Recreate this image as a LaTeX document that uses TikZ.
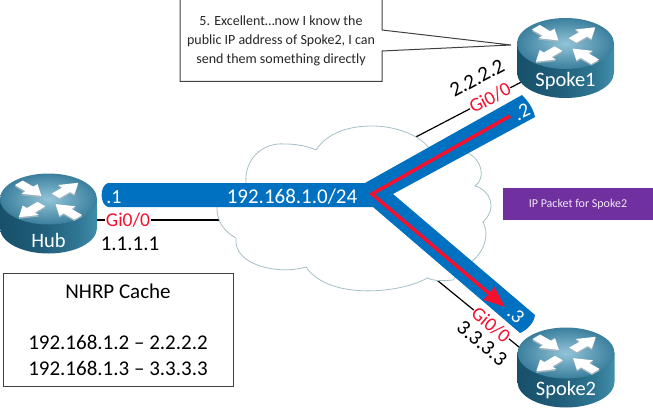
\documentclass[tikz,border=0pt]{standalone}
\usepackage{fontspec}
\setmainfont{Carlito}
\usetikzlibrary{arrows.meta,shadows}
\definecolor{lanblue}{HTML}{0070C0}
\definecolor{pathred}{HTML}{F5102D}
\definecolor{cloudline}{HTML}{A6BFC6}
\definecolor{pktpurple}{HTML}{7030A0}
\definecolor{rsA}{HTML}{17506A}
\definecolor{rsB}{HTML}{1F5C78}
\definecolor{rsC}{HTML}{2F7692}
\definecolor{rsD}{HTML}{4A9AB8}
\definecolor{rsE}{HTML}{5FAFC8}
\definecolor{rsF}{HTML}{2C6C86}
\definecolor{HubTopIn}{HTML}{92C4D8}
\definecolor{HubTopOut}{HTML}{3B7F9D}
\definecolor{HubArrowShadow}{HTML}{9FB4BE}
\pgfdeclarehorizontalshading{routerside}{100bp}{
  color(0bp)=(rsA); color(25bp)=(rsA); color(45bp)=(rsB); color(65bp)=(rsC);
  color(80bp)=(rsD); color(90bp)=(rsE); color(100bp)=(rsF)}
\tikzset{
  wire/.style={draw=black,line width=1.2pt},
  redtxt/.style={text=pathred,fill=white,inner sep=0.6pt,font=\fontsize{19.5}{19.5}\selectfont},
  blacktxt/.style={text=black,inner sep=0pt,font=\fontsize{21}{21}\selectfont},
  whitetxt/.style={text=white,inner sep=0pt,font=\fontsize{20}{20}\selectfont},
  routertxt/.style={text=white,inner sep=0pt,anchor=base,font=\fontsize{20.5}{20.5}\selectfont},
  boxline/.style={draw=black!75,line width=1pt,fill=white},
}
\newcommand{\arrowpoly}{(10,-5.5) -- (25,-5.5) -- (25,-11.5) -- (42,0) -- (25,11.5) -- (25,5.5) -- (10,5.5) -- cycle}
\newcommand{\rarrowpoly}{(42,-5.5) -- (27,-5.5) -- (27,-11.5) -- (10,0) -- (27,11.5) -- (27,5.5) -- (42,5.5) -- cycle}
\newcommand{\routerfig}[5]{%
  \begin{scope}[shift={(#2,#3)}]
    \shade[shading=routerside] (-48.5,0) -- (-48.5,29) arc[start angle=180,end angle=0,x radius=48.5,y radius=25.5] -- (48.5,0) -- cycle;
    \shade[inner color=HubTopIn,outer color=HubTopOut] (0,0) ellipse [x radius=48.5,y radius=25.5];
    \foreach \off/\col in {1.6/HubArrowShadow,0/white}{
      \begin{scope}[yshift=-\off pt,yshift=-1pt,yscale=.58]
        \fill[\col,rotate=45] \arrowpoly;
        \fill[\col,rotate=-45] \rarrowpoly;
        \fill[\col,rotate=135] \rarrowpoly;
        \fill[\col,rotate=-135] \arrowpoly;
      \end{scope}}
    \node[routertxt] (#1label) at (0,#5) {#4};
  \end{scope}}
\begin{document}
\begin{tikzpicture}[x=1pt,y=-1pt]
\useasboundingbox (0,0) rectangle (653,409);
% ports
\coordinate (hubport) at (96,220);
\coordinate (spokeoneport) at (565.5,59);
\coordinate (spoketwoport) at (530,356);
\coordinate (cloudw) at (220,220);
\coordinate (cloudne) at (412,139);
\coordinate (cloudse) at (432,276);
% wires
\draw[wire] (hubport) -- (cloudw);
\draw[wire] (spokeoneport) -- (cloudne);
\draw[wire] (spoketwoport) -- (cloudse);
% cloud
\draw[draw=cloudline,line width=.8pt,fill=white]
  (246,183) .. controls (244,160) and (262,142) .. (285,144)
  .. controls (298,144) and (310,147) .. (316,150)
  .. controls (328,132) and (350,126) .. (372,126)
  .. controls (397,126) and (420,136) .. (428,147)
  -- (468,153)
  .. controls (482,160) and (486,178) .. (475,186)
  .. controls (490,190) and (498,208) .. (483,222)
  .. controls (490,235) and (485,256) .. (462,268)
  -- (453,280)
  .. controls (442,281) and (434,281) .. (427,278)
  .. controls (405,292) and (330,302) .. (306,267)
  .. controls (280,275) and (233,266) .. (236,238)
  .. controls (225,232) and (216,222) .. (217,205)
  -- cycle;
% interface labels on the wires
\node[redtxt] (hubgi) at (128,220) {Gi0/0};
\node[redtxt,rotate=28] (onegi) at (490,98) {Gi0/0};
\node[redtxt,rotate=-40] (twogi) at (491,325) {Gi0/0};
% LAN band
\fill[lanblue]
  (108,183) -- (365,183) -- (522,95)
  .. controls (528,101) and (533,108) .. (535,117)
  -- (393,194) -- (535,315)
  .. controls (534,323) and (527,330) .. (520,333)
  -- (373,207) -- (108,207)
  .. controls (100,205) and (99,186) .. (108,183) -- cycle;
\coordinate (redstart) at (510,116);
\coordinate (redbend) at (372,194);
\coordinate (redtip) at (505,307);
\draw[pathred,line width=3.5pt,line join=miter,-{Triangle[length=21pt,width=16pt]}] (redstart) -- (redbend) -- (redtip);
% band labels
\node[whitetxt] (lanlabel) at (292,197) {\fontsize{21}{21}\selectfont 192.168.1.0/24};
\node[whitetxt] (dotone) at (114,197) {.1};
\node[whitetxt,rotate=25] (dottwo) at (522,112) {.2};
\node[whitetxt,rotate=-45] (dotthree) at (516,315) {.3};
% routers
\routerfig{hub}{48.5}{199}{Hub}{48}
\routerfig{spokeone}{565.5}{43.5}{Spoke1}{43.5}
\routerfig{spoketwo}{566}{353}{Spoke2}{42}
% addresses
\node[blacktxt] (hubip) at (130,244) {1.1.1.1};
\node[blacktxt,rotate=28] (oneip) at (477,78) {2.2.2.2};
\node[blacktxt,rotate=-40] (twoip) at (482,343) {3.3.3.3};
% callout
\coordinate (calltip) at (511,45);
\draw[boxline] (180,-3) -- (382,-3) -- (382,30) -- (calltip) -- (382,51) -- (382,81.5) -- (180,81.5) -- cycle;
\node[align=center,inner sep=0pt,text=black!85,font=\fontsize{14}{19}\selectfont] (calltext) at (281,41) {5. Excellent…now I know the\\public IP address of Spoke2, I can\\send them something directly};
% cache
\node[boxline,drop shadow={shadow xshift=.8pt,shadow yshift=-.8pt,fill=black!45,opacity=.6},minimum width=230pt,minimum height=113pt,inner sep=0pt] (cachebox) at (118,329.5) {};
\node[align=center,inner sep=0pt,font=\fontsize{21}{25.6}\selectfont] (cachetext) at (118,329.5) {NHRP Cache\\[0pt]\mbox{}\\192.168.1.2 – 2.2.2.2\\192.168.1.3 – 3.3.3.3};
% packet
\fill[pktpurple] (503,188) rectangle (655,220);
\node[inner sep=0pt,text=white!90!pktpurple,font=\fontsize{12}{12}\selectfont] (packet) at (578,204) {IP Packet for Spoke2};
\end{tikzpicture}
\end{document}
